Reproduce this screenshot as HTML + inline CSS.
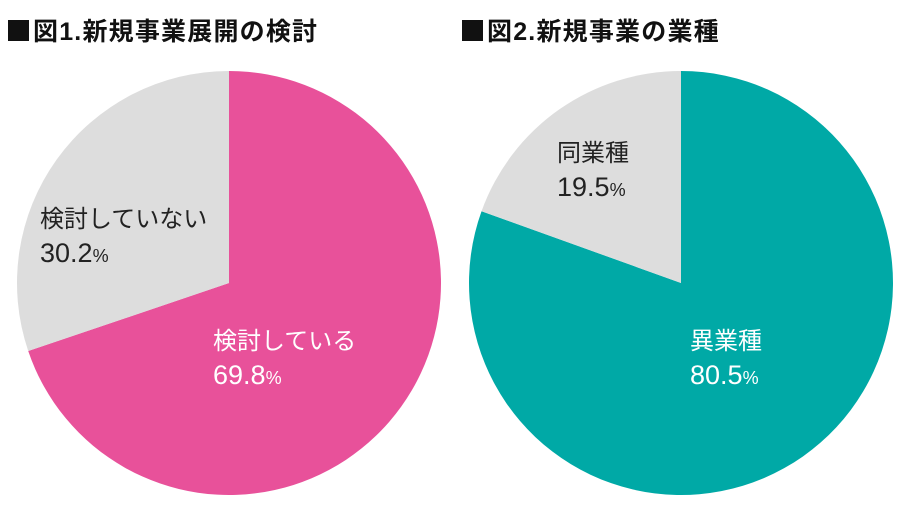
<!DOCTYPE html>
<html><head><meta charset="utf-8">
<style>
html,body{margin:0;padding:0;background:#fff;}
body{width:900px;height:518px;overflow:hidden;font-family:"Liberation Sans","Noto Sans CJK JP",sans-serif;}
svg text{font-family:"Liberation Sans","Noto Sans CJK JP",sans-serif;}
</style></head>
<body>
<svg id="chart" width="900" height="518" xmlns="http://www.w3.org/2000/svg">
<rect x="8" y="20" width="21" height="21" fill="#111"/>
<text x="33" y="40" font-size="25" font-weight="bold" letter-spacing="1.2" fill="#111">図1.新規事業展開の検討</text>
<rect x="462" y="20" width="21" height="21" fill="#111"/>
<text x="487" y="40" font-size="25" font-weight="bold" letter-spacing="1.2" fill="#111">図2.新規事業の業種</text>
<g id="pie1"></g>
<g id="pie2"></g>
</svg>
<script>
const pie1Labels = ["検討している", "検討していない"];
const pie1Values = [69.8, 30.2];
const pie2Labels = ["異業種", "同業種"];
const pie2Values = [80.5, 19.5];

const NS = "http://www.w3.org/2000/svg";
function drawPie(gId, labels, values, colors, cx, cy, r, labelPos, textColors, names) {
  const g = document.getElementById(gId);
  const total = values.reduce((a, b) => a + b, 0);
  let a0 = -Math.PI / 2;
  values.forEach((v, i) => {
    const a1 = a0 + v / total * 2 * Math.PI;
    const x0 = cx + r * Math.cos(a0), y0 = cy + r * Math.sin(a0);
    const x1 = cx + r * Math.cos(a1), y1 = cy + r * Math.sin(a1);
    const large = (a1 - a0) > Math.PI ? 1 : 0;
    const p = document.createElementNS(NS, "path");
    p.setAttribute("d", `M${cx},${cy} L${x0},${y0} A${r},${r} 0 ${large} 1 ${x1},${y1} Z`);
    p.setAttribute("fill", colors[i]);
    
    
    g.appendChild(p);
    a0 = a1;
  });
  values.forEach((v, i) => {
    const [lx, ly] = labelPos[i];
    const t = document.createElementNS(NS, "text");
    t.setAttribute("x", lx); t.setAttribute("y", ly);
    t.setAttribute("font-size", "24"); t.setAttribute("fill", textColors[i]);
    t.textContent = labels[i];
    
    
    g.appendChild(t);
    const t2 = document.createElementNS(NS, "text");
    t2.setAttribute("x", lx); t2.setAttribute("y", ly + 35);
    t2.setAttribute("font-size", "27"); t2.setAttribute("fill", textColors[i]);
    t2.textContent = v.toFixed(1);
    const ts = document.createElementNS(NS, "tspan");
    ts.setAttribute("font-size", "18");
    ts.textContent = "%";
    t2.appendChild(ts);
    
    
    g.appendChild(t2);
  });
}
drawPie("pie1", pie1Labels, pie1Values, ["#E8519A", "#DDDDDD"], 229, 283, 212,
  [[213, 349], [40, 227]], ["#fff", "#222"], ["considering", "not-considering"]);
drawPie("pie2", pie2Labels, pie2Values, ["#00A9A6", "#DDDDDD"], 681, 283, 212,
  [[690, 349], [557, 161]], ["#fff", "#222"], ["different-industry", "same-industry"]);
</script>
</body></html>
